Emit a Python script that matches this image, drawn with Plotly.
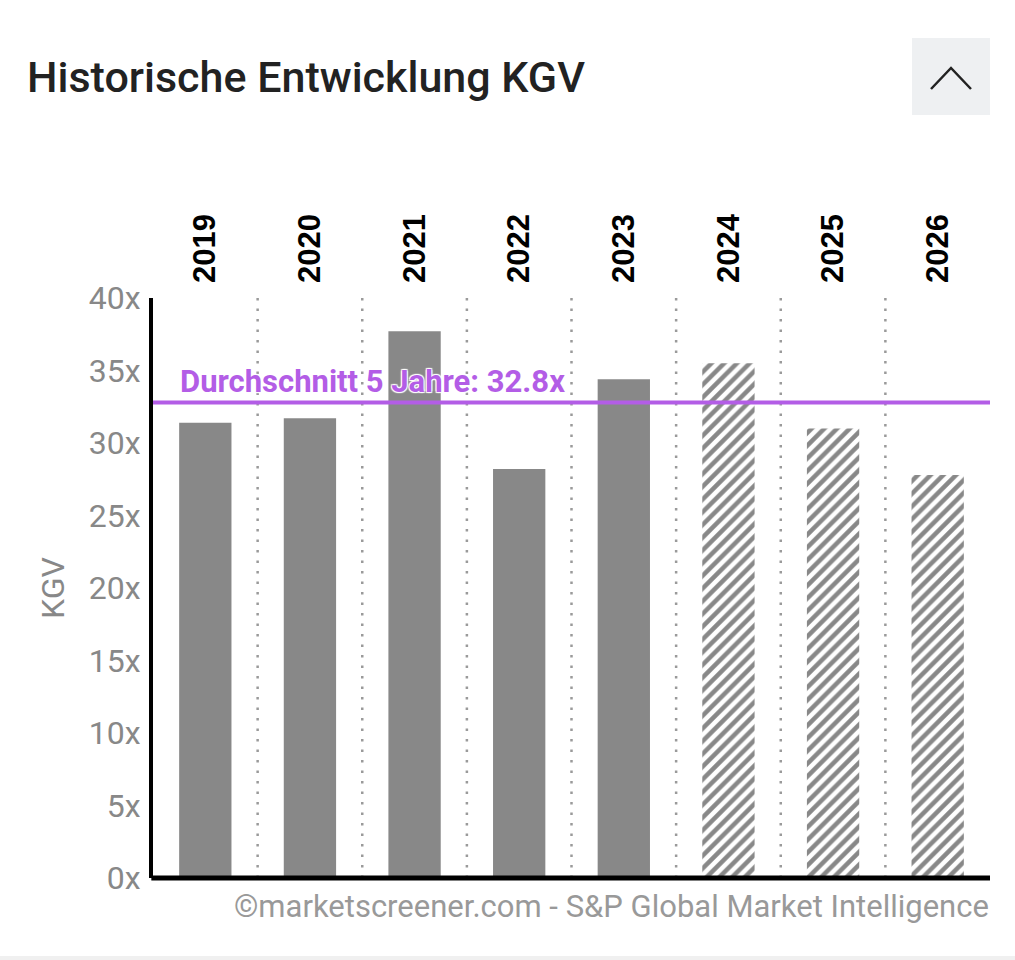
import plotly.graph_objects as go

years = ["2019", "2020", "2021", "2022", "2023", "2024", "2025", "2026"]
actual_years = ["2019", "2020", "2021", "2022", "2023"]
actual_pe = [31.4, 31.7, 37.7, 28.2, 34.4]
estimate_years = ["2024", "2025", "2026"]
estimate_pe = [35.5, 31.0, 27.8]
average_5y = 32.8
y_ticks = [0, 5, 10, 15, 20, 25, 30, 35, 40]
y_ticktext = [f"{v}x" for v in y_ticks]

W, H = 1015, 960
L, R, T, B = 153, 25, 298, 82
pw, ph = W - L - R, H - T - B


def px_x(x):
    return (x - L) / pw


def px_y(y):
    return (H - B - y) / ph


fig = go.Figure()
fig.add_trace(go.Bar(
    x=actual_years, y=actual_pe, width=0.5,
    marker=dict(color="#888888", line=dict(width=0)),
    hoverinfo="x+y", showlegend=False,
))
fig.add_trace(go.Bar(
    x=estimate_years, y=estimate_pe, width=0.5,
    marker=dict(color="#888888", line=dict(width=0),
                pattern=dict(shape="/", fgcolor="#888888", bgcolor="white",
                             size=9, solidity=0.5, fillmode="replace")),
    hoverinfo="x+y", showlegend=False,
))

shapes = []
# dotted separators between categories
for i in range(len(years) - 1):
    shapes.append(dict(type="line", xref="x", yref="y", x0=i + 0.5, x1=i + 0.5,
                       y0=0, y1=40, line=dict(color="#9a9a9a", width=2.5, dash="2.5px,8px"),
                       layer="below"))
# average line
shapes.append(dict(type="line", xref="paper", yref="y", x0=0, x1=1,
                   y0=average_5y, y1=average_5y,
                   line=dict(color="#b35de6", width=4)))
# bottom axis line
shapes.append(dict(type="line", xref="paper", yref="paper", x0=-0.002, x1=1,
                   y0=0, y1=0, line=dict(color="black", width=5)))
# collapse button
shapes.append(dict(type="rect", xref="paper", yref="paper",
                   x0=px_x(912), x1=px_x(990), y0=px_y(115), y1=px_y(38),
                   fillcolor="#eef0f2", line=dict(width=0), layer="below"))
shapes.append(dict(type="path", xref="paper", yref="paper",
                   path=f"M {px_x(931)},{px_y(89)} L {px_x(951)},{px_y(68)} L {px_x(971)},{px_y(89)}",
                   line=dict(color="#222222", width=2.5)))
# card bottom edge
shapes.append(dict(type="rect", xref="paper", yref="paper",
                   x0=px_x(0), x1=px_x(W), y0=px_y(H), y1=px_y(956),
                   fillcolor="#f0f0f0", line=dict(width=0), layer="below"))

annotations = [
    dict(text="Durchschnitt 5 Jahre: 32.8x", xref="paper", yref="y",
         x=px_x(178), y=average_5y, xanchor="left", yanchor="middle", yshift=21,
         showarrow=False,
         font=dict(family="Roboto", size=31, color="#b35de6", weight="bold",
                   shadow="1px 1px 1px #fff, -1px -1px 1px #fff, 1px -1px 1px #fff, -1px 1px 1px #fff")),
    dict(text="©marketscreener.com - S&P Global Market Intelligence", xref="paper", yref="paper",
         x=px_x(991), y=px_y(906), xanchor="right", yanchor="middle", showarrow=False,
         font=dict(family="Roboto", size=31, color="#999999")),
]

fig.update_layout(
    width=W, height=H,
    margin=dict(l=L, r=R, t=T, b=B, pad=0),
    paper_bgcolor="white", plot_bgcolor="white",
    barmode="overlay",
    title=dict(text="Historische Entwicklung KGV", xref="container", yref="container",
               x=27 / W, y=1 - 77 / H, xanchor="left", yanchor="middle",
               font=dict(family="Roboto", size=43, color="#222222", weight=500)),
    xaxis=dict(type="category", categoryorder="array", categoryarray=years,
               range=[-0.5, len(years) - 0.5], side="top", tickangle=-90,
               showgrid=False, showline=False, zeroline=False, ticks="",
               ticklabelstandoff=14,
               tickfont=dict(family="Liberation Sans", size=31, color="black", weight="bold")),
    yaxis=dict(range=[0, 40], tickvals=y_ticks, ticktext=y_ticktext,
               showgrid=False, zeroline=False, showline=True, linecolor="black", linewidth=4,
               ticks="", ticklabelstandoff=2,
               tickfont=dict(family="Roboto", size=32, color="#888888"),
               title=dict(text="KGV", standoff=16,
                          font=dict(family="Roboto", size=32, color="#888888"))),
    shapes=shapes,
    annotations=annotations,
    showlegend=False,
)

fig.write_html("out.html", post_script="document.body.style.margin='0';",
               config={"displayModeBar": False})
